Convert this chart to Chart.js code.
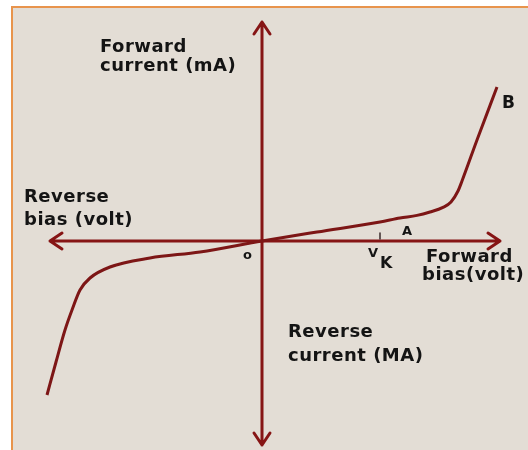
<!DOCTYPE html>
<html>
<head>
<meta charset="utf-8">
<script src="https://cdn.jsdelivr.net/npm/chart.js@4/dist/chart.umd.min.js"></script>
<style>
  html, body { margin: 0; padding: 0; background: #ffffff; }
  #wrap { width: 528px; height: 450px; }
</style>
</head>
<body>
<div id="wrap"><canvas id="c" width="528" height="450"></canvas></div>
<script>
// Diode I-V characteristic (schematic units)
const forwardBias    = [0, 2.75, 5.9, 6.9, 7.75, 8.4, 9.05, 9.45, 9.8, 10.0, 10.75, 11.75];
const forwardCurrent = [0, 0.45, 0.95, 1.15, 1.28, 1.45, 1.68, 1.95, 2.5, 3.0, 5.05, 7.7];
const reverseBias    = [-10.75, -10.3, -9.85, -9.5, -9.1, -8.6, -7.6, -5.6, -3.1];
const reverseCurrent = [-7.7, -6.05, -4.45, -3.45, -2.45, -1.85, -1.3, -0.85, -0.55];
const kneeVoltage = 5.9;          // V_K
const axisExtent = { left: -10.6, right: 11.9, top: 10.95, bottom: -10.2 };

const points = [];
reverseBias.forEach((v, i) => points.push({ x: v, y: reverseCurrent[i] }));
forwardBias.forEach((v, i) => points.push({ x: v, y: forwardCurrent[i] }));

const AXIS_COLOR = '#861515';
const CURVE_COLOR = '#7d1616';

const framePlugin = {
  id: 'frame',
  beforeDraw(chart) {
    const ctx = chart.ctx;
    ctx.save();
    ctx.fillStyle = '#ffffff';
    ctx.fillRect(0, 0, chart.width, chart.height);
    ctx.fillStyle = '#e3ddd5';
    ctx.fillRect(12, 7, chart.width - 12, chart.height - 7);
    ctx.fillStyle = '#e8944c';
    ctx.fillRect(11, 6, 2, chart.height - 6);
    ctx.fillRect(11, 6, chart.width - 11, 2);
    ctx.restore();
  }
};

const axesPlugin = {
  id: 'arrowAxes',
  beforeDatasetsDraw(chart) {
    const ctx = chart.ctx, xs = chart.scales.x, ys = chart.scales.y;
    const x0 = xs.getPixelForValue(0), y0 = ys.getPixelForValue(0);
    const xl = xs.getPixelForValue(axisExtent.left), xr = xs.getPixelForValue(axisExtent.right);
    const yt = ys.getPixelForValue(axisExtent.top), yb = ys.getPixelForValue(axisExtent.bottom);
    ctx.save();
    ctx.strokeStyle = AXIS_COLOR;
    ctx.lineWidth = 3;
    ctx.lineCap = 'round';
    ctx.lineJoin = 'round';
    ctx.beginPath();
    ctx.moveTo(xl, y0); ctx.lineTo(xr, y0);
    ctx.moveTo(x0, yt); ctx.lineTo(x0, yb);
    const a = 12, w = 8;
    ctx.moveTo(xr - a, y0 - w); ctx.lineTo(xr, y0); ctx.lineTo(xr - a, y0 + w);
    ctx.moveTo(xl + a, y0 - w); ctx.lineTo(xl, y0); ctx.lineTo(xl + a, y0 + w);
    ctx.moveTo(x0 - w, yt + a); ctx.lineTo(x0, yt); ctx.lineTo(x0 + w, yt + a);
    ctx.moveTo(x0 - w, yb - a); ctx.lineTo(x0, yb); ctx.lineTo(x0 + w, yb - a);
    ctx.stroke();
    const xk = xs.getPixelForValue(kneeVoltage);
    ctx.lineWidth = 1.5;
    ctx.strokeStyle = '#3a2a2a';
    ctx.beginPath();
    ctx.moveTo(xk, y0 - 8); ctx.lineTo(xk, y0 - 2);
    ctx.stroke();
    ctx.restore();
  },
  afterDatasetsDraw(chart) {
    const ctx = chart.ctx;
    ctx.save();
    ctx.fillStyle = '#141414';
    ctx.textBaseline = 'alphabetic';
    ctx.font = 'bold 18px "DejaVu Sans", sans-serif';
    ctx.letterSpacing = '0.5px';
    const t = (s, x, y) => ctx.fillText(s, x, y);
    t('Forward', 100, 52);
    t('current (mA)', 100, 71);
    t('Reverse', 24, 202);
    t('bias (volt)', 24, 225);
    t('Forward', 426, 262);
    t('bias(volt)', 422, 280);
    t('Reverse', 288, 337);
    t('current (MA)', 288, 361);
    ctx.font = 'bold 17px "DejaVu Sans", sans-serif';
    t('B', 502, 108);
    ctx.letterSpacing = '0px';
    ctx.font = 'bold 13px "DejaVu Sans", sans-serif';
    t('o', 243, 259);
    t('A', 402, 235);
    t('V', 368, 257);
    ctx.font = 'bold 16px "DejaVu Sans", sans-serif';
    t('K', 380, 268);
    ctx.restore();
  }
};

new Chart(document.getElementById('c'), {
  type: 'line',
  data: {
    datasets: [{
      data: points,
      borderColor: CURVE_COLOR,
      borderWidth: 3,
      pointRadius: 0,
      fill: false,
      cubicInterpolationMode: 'monotone'
    }]
  },
  options: {
    responsive: false,
    animation: false,
    events: [],
    layout: { padding: 0 },
    plugins: { legend: { display: false }, tooltip: { enabled: false } },
    scales: {
      x: { type: 'linear', display: false, min: -13.1, max: 13.3 },
      y: { type: 'linear', display: false, min: -10.45, max: 12.05 }
    }
  },
  plugins: [framePlugin, axesPlugin]
});
</script>
</body>
</html>
